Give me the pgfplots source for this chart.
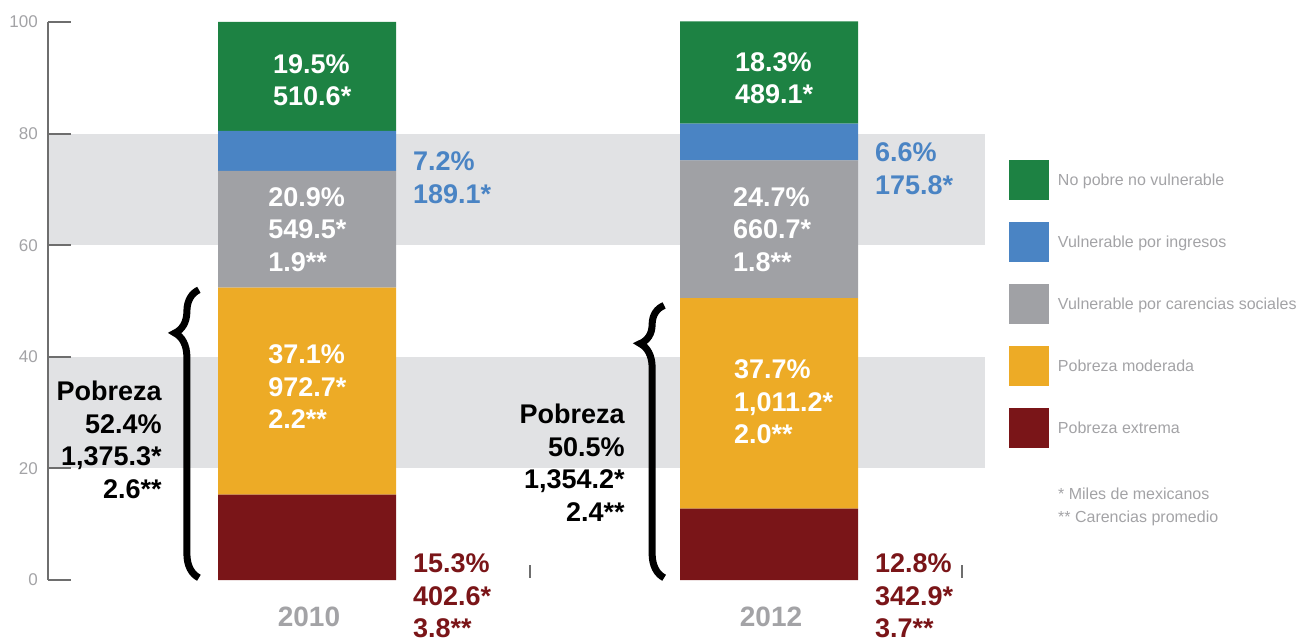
\documentclass[border=0pt]{standalone}
\usepackage{fontspec}
\setmainfont{Liberation Sans}
\usepackage{pgfplots}
\pgfplotsset{compat=1.18}
\usetikzlibrary{decorations.pathreplacing}

\definecolor{cgreen}{HTML}{1D8243}
\definecolor{cblue}{HTML}{4A84C4}
\definecolor{cgray}{HTML}{A0A1A5}
\definecolor{cyellow}{HTML}{EDAB26}
\definecolor{cred}{HTML}{7A1518}
\definecolor{bandgray}{HTML}{E1E2E4}
\definecolor{labgray}{HTML}{A3A3A6}
\definecolor{tickgray}{HTML}{6E6E6E}

\newcommand{\lbl}{\fontsize{27}{32.5}\selectfont\bfseries}

\pgfplotsset{geom/.style={
 at={(0,0)}, anchor=south west,
 scale only axis, width=937pt, height=558pt,
 xmin=-0.5606, xmax=1.4675, ymin=0, ymax=100, clip=false}}

\begin{document}
\begin{tikzpicture}[every node/.append style={inner sep=0pt}]
\useasboundingbox (-48pt,-63pt) rectangle (1254pt,580pt);

% background bands
\begin{axis}[geom, hide axis]
\fill[bandgray] (rel axis cs:0,0.2) rectangle (rel axis cs:1,0.4);
\fill[bandgray] (rel axis cs:0,0.6) rectangle (rel axis cs:1,0.8);
\end{axis}

\begin{axis}[
 geom,
 ybar stacked, bar width=178pt,
 axis lines*=left,
 x axis line style={draw=none},
 xtick={0,1}, xticklabels={2010,2012},
 xtick style={draw=none},
 xticklabel style={font=\fontsize{28}{30}\selectfont\bfseries, text=labgray, inner sep=0pt, yshift=-27pt, xshift=2pt},
 ytick={0,20,...,100},
 ytick style={draw=tickgray, line width=2pt},
 major tick length=23pt, tick align=inside,
 y axis line style={draw=tickgray, line width=2pt},
 yticklabel style={font=\fontsize{17}{20}\selectfont, text=labgray, inner sep=0pt, xshift=-10pt},
 /pgf/number format/assume math mode=true,
 reverse legend, legend cell align=left,
 legend image code/.code={\fill[#1] (0pt,-20pt) rectangle (40pt,20pt);},
 legend style={at={(1.02561,0.7527)}, anchor=north west, draw=none, fill=none,
   inner sep=0pt, outer sep=0pt, row sep=22pt, column sep=9pt,
   font=\fontsize{16}{19}\selectfont, text=labgray, nodes={inner sep=0pt, anchor=west}},
]
\addplot[fill=cred, draw=none] coordinates {(0,15.3) (1,12.8)};
\addlegendentry{Pobreza extrema}
\addplot[fill=cyellow, draw=none] coordinates {(0,37.1) (1,37.7)};
\addlegendentry{Pobreza moderada}
\addplot[fill=cgray, draw=none] coordinates {(0,20.9) (1,24.7)};
\addlegendentry{Vulnerable por carencias sociales}
\addplot[fill=cblue, draw=none] coordinates {(0,7.2) (1,6.6)};
\addlegendentry{Vulnerable por ingresos}
\addplot[fill=cgreen, draw=none] coordinates {(0,19.5) (1,18.3)};
\addlegendentry{No pobre no vulnerable}
\end{axis}

% labels on top
\begin{axis}[geom, hide axis]
% 2010
\node[anchor=west, align=left, text=white, font=\lbl] at (axis cs:-0.0736,89.6) {19.5\%\\510.6*};
\node[anchor=west, align=left, text=cblue, font=\lbl] at (axis cs:0.229,72.1) {7.2\%\\189.1*};
\node[anchor=west, align=left, text=white, font=\lbl] at (axis cs:-0.084,62.8) {20.9\%\\549.5*\\1.9**};
\node[anchor=west, align=left, text=white, font=\lbl] at (axis cs:-0.084,34.6) {37.1\%\\972.7*\\2.2**};
\node[anchor=west, align=left, text=cred, font=\lbl] at (axis cs:0.229,-2.9) {15.3\%\\402.6*\\3.8**};
\node[anchor=east, align=right, text=black, font=\lbl] at (axis cs:-0.314,25.1) {Pobreza\\52.4\%\\1,375.3*\\2.6**};
\draw[line width=7pt, decorate, decoration={brace, amplitude=24pt, aspect=0.85}]
  (axis cs:-0.234,0.4) -- (axis cs:-0.234,52);
% 2012
\node[anchor=west, align=left, text=white, font=\lbl] at (axis cs:0.926,89.9) {18.3\%\\489.1*};
\node[anchor=west, align=left, text=cblue, font=\lbl] at (axis cs:1.229,73.7) {6.6\%\\175.8*};
\node[anchor=west, align=left, text=white, font=\lbl] at (axis cs:0.922,62.8) {24.7\%\\660.7*\\1.8**};
\node[anchor=west, align=left, text=white, font=\lbl] at (axis cs:0.924,31.9) {37.7\%\\1,011.2*\\2.0**};
\node[anchor=west, align=left, text=cred, font=\lbl] at (axis cs:1.229,-2.9) {12.8\%\\342.9*\\3.7**};
\node[anchor=east, align=right, text=black, font=\lbl] at (axis cs:0.688,21.0) {Pobreza\\50.5\%\\1,354.2*\\2.4**};
\draw[line width=7pt, decorate, decoration={brace, amplitude=24pt, aspect=0.86}]
  (axis cs:0.773,0.4) -- (axis cs:0.773,49.2);
% small marks
\draw[tickgray, line width=1.5pt] (axis cs:0.483,0.4) -- (axis cs:0.483,2.7);
\draw[tickgray, line width=1.5pt] (axis cs:1.418,0.4) -- (axis cs:1.418,2.7);
% footnote
\node[anchor=west, align=left, font=\fontsize{16}{23}\selectfont, text=labgray] at (rel axis cs:1.0779,0.1317) {* Miles de mexicanos\\** Carencias promedio};
\end{axis}
\end{tikzpicture}
\end{document}
